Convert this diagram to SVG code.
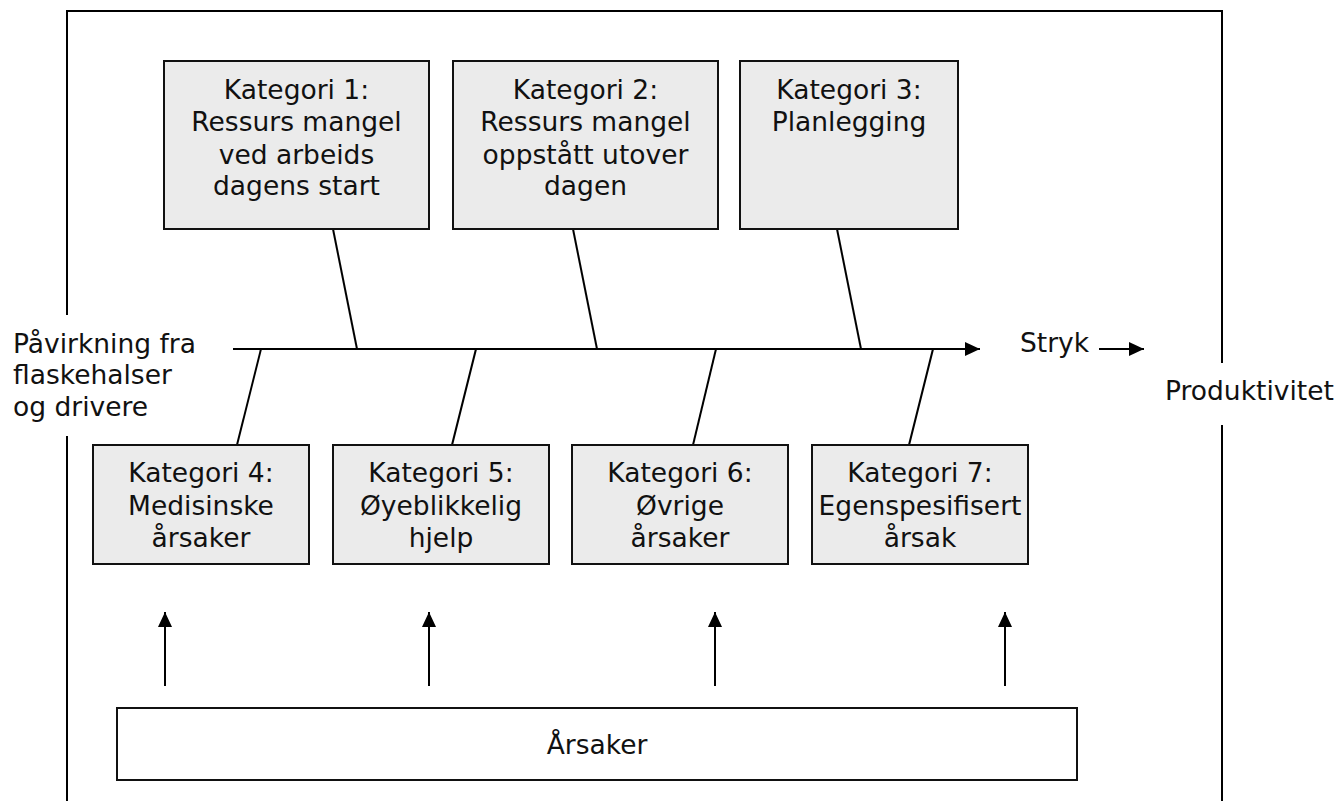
<svg xmlns="http://www.w3.org/2000/svg" width="1340" height="801" viewBox="0 0 1340 801">
  <style>
    text { font-family: "DejaVu Sans", Verdana, sans-serif; font-size: 26.5px; fill: #111; }
    .c { text-anchor: middle; }
    .box { fill: #ebebeb; stroke: #111; stroke-width: 2; }
    .plain { fill: #fff; stroke: #111; stroke-width: 2; }
    .ln { stroke: #000; stroke-width: 2; fill: none; }
  </style>
  <defs>
    <marker id="arr" viewBox="0 0 15 14" refX="15" refY="7" markerWidth="15" markerHeight="14" markerUnits="userSpaceOnUse" orient="auto">
      <path d="M0,0 L15,7 L0,14 z" fill="#000"/>
    </marker>
  </defs>

  <rect width="1340" height="801" fill="#fff"/>

  <!-- frame -->
  <g id="frame">
    <path class="ln" d="M67,315 V11 H1222 V363"/>
    <path class="ln" d="M67,436 V801"/>
    <path class="ln" d="M1222,425 V801"/>
  </g>

  <!-- connectors -->
  <g id="connectors">
    <line class="ln" x1="233" y1="349" x2="980" y2="349" marker-end="url(#arr)"/>
    <line class="ln" x1="1099" y1="349" x2="1144" y2="349" marker-end="url(#arr)"/>
    <line class="ln" x1="333" y1="229" x2="357" y2="349"/>
    <line class="ln" x1="573" y1="229" x2="597" y2="349"/>
    <line class="ln" x1="837" y1="229" x2="861" y2="349"/>
    <line class="ln" x1="261" y1="349" x2="237" y2="445"/>
    <line class="ln" x1="476" y1="349" x2="452" y2="445"/>
    <line class="ln" x1="716" y1="349" x2="693" y2="445"/>
    <line class="ln" x1="933" y1="349" x2="909" y2="445"/>
    <line class="ln" x1="165" y1="686" x2="165" y2="612" marker-end="url(#arr)"/>
    <line class="ln" x1="429" y1="686" x2="429" y2="612" marker-end="url(#arr)"/>
    <line class="ln" x1="715" y1="686" x2="715" y2="612" marker-end="url(#arr)"/>
    <line class="ln" x1="1005" y1="686" x2="1005" y2="612" marker-end="url(#arr)"/>
  </g>

  <!-- top categories -->
  <g id="kat1">
    <rect class="box" x="164" y="61" width="265" height="168"/>
    <text class="c" x="296.5" y="99">Kategori 1:</text>
    <text class="c" x="296.5" y="131">Ressurs mangel</text>
    <text class="c" x="296.5" y="164">ved arbeids</text>
    <text class="c" x="296.5" y="195">dagens start</text>
  </g>
  <g id="kat2">
    <rect class="box" x="453" y="61" width="265" height="168"/>
    <text class="c" x="585.5" y="99">Kategori 2:</text>
    <text class="c" x="585.5" y="131">Ressurs mangel</text>
    <text class="c" x="585.5" y="164">oppstått utover</text>
    <text class="c" x="585.5" y="195">dagen</text>
  </g>
  <g id="kat3">
    <rect class="box" x="740" y="61" width="218" height="168"/>
    <text class="c" x="849" y="99">Kategori 3:</text>
    <text class="c" x="849" y="131">Planlegging</text>
  </g>

  <!-- bottom categories -->
  <g id="kat4">
    <rect class="box" x="93" y="445" width="216" height="119"/>
    <text class="c" x="201" y="482">Kategori 4:</text>
    <text class="c" x="201" y="515">Medisinske</text>
    <text class="c" x="201" y="547">årsaker</text>
  </g>
  <g id="kat5">
    <rect class="box" x="333" y="445" width="216" height="119"/>
    <text class="c" x="441" y="482">Kategori 5:</text>
    <text class="c" x="441" y="515">Øyeblikkelig</text>
    <text class="c" x="441" y="547">hjelp</text>
  </g>
  <g id="kat6">
    <rect class="box" x="572" y="445" width="216" height="119"/>
    <text class="c" x="680" y="482">Kategori 6:</text>
    <text class="c" x="680" y="515">Øvrige</text>
    <text class="c" x="680" y="547">årsaker</text>
  </g>
  <g id="kat7">
    <rect class="box" x="812" y="445" width="216" height="119"/>
    <text class="c" x="920" y="482">Kategori 7:</text>
    <text class="c" x="920" y="515">Egenspesifisert</text>
    <text class="c" x="920" y="547">årsak</text>
  </g>

  <!-- causes -->
  <g id="arsaker">
    <rect class="plain" x="117" y="708" width="960" height="72"/>
    <text class="c" x="597" y="754">Årsaker</text>
  </g>

  <!-- side labels -->
  <g id="input">
    <text x="13" y="353">Påvirkning fra</text>
    <text x="13" y="384">flaskehalser</text>
    <text x="13" y="416">og drivere</text>
  </g>
  <g id="stryk">
    <text x="1020" y="352">Stryk</text>
  </g>
  <g id="produktivitet">
    <text x="1165" y="400">Produktivitet</text>
  </g>
</svg>
